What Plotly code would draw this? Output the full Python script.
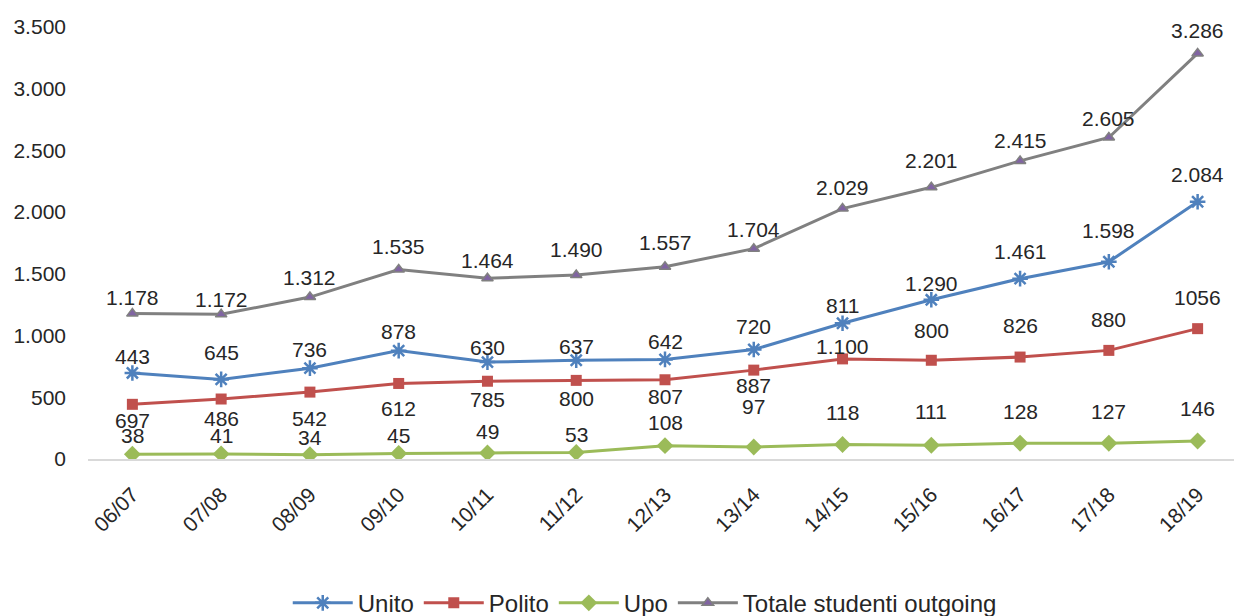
import plotly.graph_objects as go

# anni accademici
anni = ["06/07", "07/08", "08/09", "09/10", "10/11", "11/12", "12/13",
        "13/14", "14/15", "15/16", "16/17", "17/18", "18/19"]

# studenti outgoing per ateneo
unito = [697, 645, 736, 878, 785, 800, 807, 887, 1100, 1290, 1461, 1598, 2084]
polito = [443, 486, 542, 612, 630, 637, 642, 720, 811, 800, 826, 880, 1056]
upo = [38, 41, 34, 45, 49, 53, 108, 97, 118, 111, 128, 127, 146]
totale = [1178, 1172, 1312, 1535, 1464, 1490, 1557, 1704, 2029, 2201, 2415, 2605, 3286]

# etichette come appaiono nel grafico originale (alcune scambiate)
unito_labels = ["443", "645", "736", "878", "630", "637", "642", "720", "811",
                "1.290", "1.461", "1.598", "2.084"]
polito_labels = ["697", "486", "542", "612", "785", "800", "807", "887", "1.100",
                 "800", "826", "880", "1056"]
upo_labels = ["38", "41", "34", "45", "49", "53", "108", "97", "118",
              "111", "128", "127", "146"]
totale_labels = ["1.178", "1.172", "1.312", "1.535", "1.464", "1.490", "1.557",
                 "1.704", "2.029", "2.201", "2.415", "2.605", "3.286"]

# label offsets in px (style only)
unito_shift = [16, 27, 19, 19, 15, 14, 18, 23, 18, 16, 27, 31, 27]
polito_shift = [-16, -19, -26, -25, -18, -18, -17, -15, 12, 30, 32, 31, 31]
upo_shift = [19, 18, 17, 18, 21, 18, 23, 41, 32, 34, 32, 32, 32]
totale_shift = [16, 15, 20, 23, 18, 26, 24, 19, 21, 27, 20, 19, 23]

BLUE = "#4F81BD"
RED = "#C0504D"
GREEN = "#9BBB59"
GREY = "#808080"
PURPLE = "#8064A2"
FONT = "Liberation Sans"
TXT = "#262626"

fig = go.Figure()

fig.add_trace(go.Scatter(
    x=anni, y=unito, name="Unito", mode="lines+markers",
    line=dict(color=BLUE, width=3),
    marker=dict(symbol="asterisk-open", size=13, color=BLUE,
                line=dict(color=BLUE, width=2.5)),
))
fig.add_trace(go.Scatter(
    x=anni, y=polito, name="Polito", mode="lines+markers",
    line=dict(color=RED, width=3),
    marker=dict(symbol="square", size=11, color=RED),
))
fig.add_trace(go.Scatter(
    x=anni, y=upo, name="Upo", mode="lines+markers",
    line=dict(color=GREEN, width=3),
    marker=dict(symbol="diamond", size=13, color=GREEN),
))
fig.add_trace(go.Scatter(
    x=anni, y=totale, name="Totale studenti outgoing", mode="lines+markers",
    line=dict(color=GREY, width=3),
    marker=dict(symbol="triangle-up", size=10, color=PURPLE,
                line=dict(color=GREY, width=1.5)),
))

# etichette dati
for values, labels, shifts in [(unito, unito_labels, unito_shift),
                               (polito, polito_labels, polito_shift),
                               (upo, upo_labels, upo_shift),
                               (totale, totale_labels, totale_shift)]:
    for x, y, t, s in zip(anni, values, labels, shifts):
        fig.add_annotation(x=x, y=y, text=t, showarrow=False, yshift=s,
                           font=dict(family=FONT, size=21, color=TXT))

# the page body has an 8px margin, so the figure is a bit smaller
fig.update_layout(
    width=1234, height=608,
    margin=dict(l=80, r=0, t=19, b=157),
    paper_bgcolor="white", plot_bgcolor="white",
    separators=",.",
    font=dict(family=FONT, size=21, color=TXT),
    showlegend=True,
    legend=dict(orientation="h", xref="container", yref="container",
                x=0.516, xanchor="center", y=0.021, yanchor="middle",
                font=dict(family=FONT, size=24, color=TXT),
                itemwidth=60, tracegroupgap=0),
)
fig.update_xaxes(
    type="category", range=[-0.5, 12.5], tickangle=-45,
    showline=True, linecolor="#D9D9D9", linewidth=2,
    showgrid=False, ticks="", tickfont=dict(size=21),
    ticklabelstandoff=13, automargin=False,
)
fig.update_yaxes(
    range=[0, 3500], dtick=500, tickformat=",d",
    showgrid=False, zeroline=False, showline=False,
    ticks="", ticklabelstandoff=21, tickfont=dict(size=21),
    automargin=False,
)

fig.write_html("out.html")
